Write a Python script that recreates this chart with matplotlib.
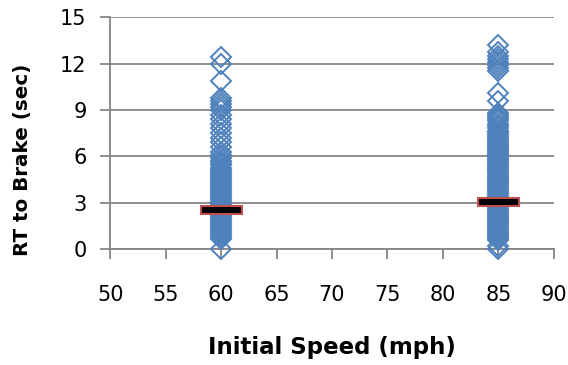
import matplotlib.pyplot as plt

# initial speeds and reaction times (sec)
speeds = [60, 85]
rt_60 = [0.0, 0.65, 0.75, 0.85, 0.95, 1.05, 1.15, 1.25, 1.35, 1.45, 1.55, 1.65,
         1.75, 1.85, 1.95, 2.05, 2.15, 2.25, 2.35, 2.45, 2.55, 2.65, 2.75, 2.85,
         2.95, 3.05, 3.15, 3.25, 3.35, 3.45, 3.55, 3.65, 3.75, 3.85, 3.95, 4.05,
         4.15, 4.25, 4.35, 4.45, 4.55, 4.65, 4.75, 4.85, 4.95, 5.05, 5.15, 5.25,
         5.4, 5.55, 5.7, 5.9, 6.1, 6.3, 6.6, 6.9, 7.2, 7.5, 7.8, 8.1, 8.4, 8.7,
         9.0, 9.2, 9.4, 9.6, 9.8, 10.9, 12.0, 12.4]
rt_85 = [0.0, 0.2, 0.55, 0.65, 0.75, 0.85, 0.95, 1.05, 1.15, 1.25, 1.35, 1.45,
         1.55, 1.65, 1.75, 1.85, 1.95, 2.05, 2.15, 2.25, 2.35, 2.45, 2.55, 2.65,
         2.75, 2.85, 2.95, 3.05, 3.15, 3.25, 3.35, 3.45, 3.55, 3.65, 3.75, 3.85,
         3.95, 4.05, 4.15, 4.25, 4.35, 4.45, 4.55, 4.65, 4.75, 4.85, 4.95, 5.05,
         5.15, 5.25, 5.35, 5.45, 5.55, 5.65, 5.75, 5.85, 5.95, 6.05, 6.15, 6.25,
         6.35, 6.45, 6.55, 6.65, 6.75, 6.85, 6.95, 7.05, 7.15, 7.25, 7.35, 7.45,
         7.55, 7.65, 7.8, 7.95, 8.1, 8.25, 8.4, 8.55, 8.7, 8.8, 9.6, 10.1, 11.5,
         11.7, 11.9, 12.1, 12.3, 12.5, 12.75, 13.2]
mean_rt = [2.52, 3.04]

blue = '#4F81BD'
grey = '#868686'

fig, ax = plt.subplots(figsize=(5.68, 3.65), dpi=100)
fig.subplots_adjust(left=0.194, right=0.975, bottom=0.318, top=0.953)

ax.plot([speeds[0]] * len(rt_60), rt_60, linestyle='none', marker='D', markersize=10.5,
        markerfacecolor='none', markeredgecolor=blue, markeredgewidth=1.4, zorder=3, clip_on=False)
ax.plot([speeds[1]] * len(rt_85), rt_85, linestyle='none', marker='D', markersize=10.5,
        markerfacecolor='none', markeredgecolor=blue, markeredgewidth=1.4, zorder=3, clip_on=False)

# mean markers
ax.bar(speeds, [0.52, 0.52], width=3.7, bottom=[m - 0.26 for m in mean_rt],
       color='black', edgecolor='#C0504D', linewidth=1.5, zorder=4)

ax.set_xlim(50, 90)
ax.set_ylim(0, 15)
ax.set_xticks(range(50, 91, 5))
ax.set_yticks(range(0, 16, 3))
ax.grid(axis='y', color=grey, linewidth=1.3)
ax.set_axisbelow(True)
for s in ['top', 'right']:
    ax.spines[s].set_visible(False)
for s in ['left', 'bottom']:
    ax.spines[s].set_color(grey)
    ax.spines[s].set_linewidth(1.3)
ax.tick_params(axis='x', length=7, width=1.3, color=grey, pad=19, labelsize=15)
ax.tick_params(axis='y', length=7, width=1.3, color=grey, pad=10, labelsize=15)

fig.text(0.5845, 0.047, 'Initial Speed (mph)', fontsize=16.5, fontweight='bold',
         ha='center', va='center')
ax.text(-0.198, 0.384, 'RT to Brake (sec)', fontsize=14.3, fontweight='bold',
        rotation=90, ha='center', va='center', transform=ax.transAxes)

plt.savefig('out.png')
